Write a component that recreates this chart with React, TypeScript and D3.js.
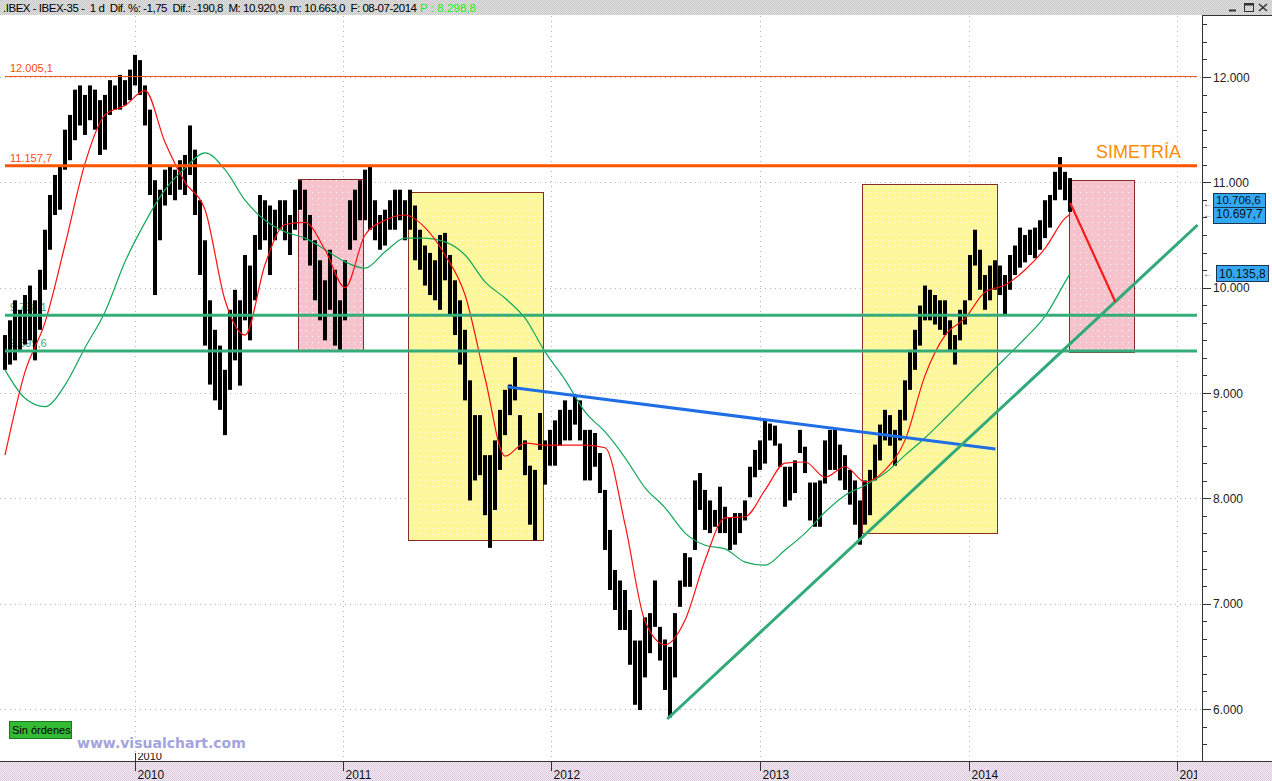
import React from 'react';
import * as d3 from 'd3';

const W = 1272;
const H = 781;

const BAR_START = '2009-05-19';
const BAR_STEP_DAYS = 8.76;
const barHigh = [
  9550, 9690, 9880, 9790, 9930, 10020, 9880, 10170, 10550, 10880,
  11070, 11160, 11500, 11640, 11880, 11920, 11830, 11920, 11880, 11780,
  11830, 11970, 11920, 12020, 11970, 12070, 12210, 12160, 11920, 11690,
  11020, 10930, 11120, 11160, 11120, 11210, 11260, 11540, 11310, 10830,
  10450, 9880, 9600, 9450, 9220, 9790, 9980, 9880, 10310, 10210,
  10500, 10880, 10830, 10780, 10740, 10830, 10830, 10690, 10930, 11020,
  10930, 10690, 10450, 10260, 10070, 10360, 10170, 9880, 10260, 10830,
  10930, 11020, 11120, 11160, 10830, 10690, 10740, 10830, 10930, 10930,
  10830, 10930, 10780, 10550, 10400, 10330, 10260, 10500, 10520, 10310,
  10070, 9880, 9600, 9120, 8790, 8790, 8410, 8410, 8550, 8840,
  9030, 9080, 9340, 8790, 8550, 8310, 8270, 8810, 8550, 8650,
  8740, 8840, 8930, 8840, 8980, 8930, 8650, 8650, 8620, 8430,
  8080, 7700, 7320, 7220, 7130, 6940, 6650, 6650, 6870, 6910,
  7220, 6780, 6660, 6590, 6910, 7220, 7480, 7440, 8170, 8240,
  8080, 7980, 7890, 8110, 7920, 7820, 7860, 7860, 7980, 8300,
  8460, 8550, 8740, 8710, 8690, 8520, 8300, 8300, 8360, 8650,
  8490, 8150, 8150, 8170, 8550, 8650, 8650, 8510, 8410, 8270,
  8170, 7980, 8170, 8270, 8510, 8700, 8840, 8790, 8650, 8840,
  9120, 9410, 9600, 9830, 10020, 9980, 9930, 9880, 9880, 9690,
  9550, 9790, 9880, 10310, 10550, 10360, 10120, 10210, 10260, 10210,
  10120, 10310, 10400, 10570, 10500, 10550, 10570, 10640, 10830, 10880,
  11100, 11240, 11100, 11040,
];
const barLow = [
  9220, 9270, 9310, 9410, 9460, 9500, 9310, 9600, 9980, 10360,
  10690, 10740, 11120, 11210, 11400, 11540, 11450, 11590, 11500, 11260,
  11310, 11640, 11690, 11690, 11730, 11780, 11920, 11830, 11540, 10880,
  9930, 10450, 10780, 10880, 10830, 10930, 10880, 11070, 10690, 10120,
  9450, 9080, 8930, 8840, 8600, 9030, 9310, 9070, 9690, 9500,
  9880, 10360, 10450, 10120, 10450, 10550, 10450, 10310, 10550, 10740,
  10450, 10210, 9880, 9690, 9500, 9790, 9450, 9410, 9690, 10360,
  10450, 10640, 10640, 10550, 10450, 10360, 10400, 10550, 10550, 10640,
  10450, 10550, 10260, 10170, 10020, 9930, 9880, 9790, 10070, 9740,
  9550, 9270, 8930, 7980, 8170, 8220, 7840, 7530, 7890, 8270,
  8600, 8790, 8930, 8460, 8220, 7750, 7600, 8460, 8130, 8310,
  8310, 8500, 8550, 8550, 8700, 8550, 8170, 8170, 8300, 8050,
  7510, 7130, 6940, 6750, 6750, 6420, 6040, 5990, 6300, 6530,
  6780, 6460, 6180, 5920, 6300, 6970, 7160, 7160, 7510, 7890,
  7700, 7670, 7730, 7670, 7670, 7510, 7560, 7670, 7790, 8010,
  8200, 8270, 8330, 8550, 8500, 8300, 7920, 7980, 8050, 8430,
  8240, 7790, 7730, 7730, 8140, 8270, 8270, 8170, 8080, 7940,
  7750, 7560, 7750, 7840, 8170, 8360, 8550, 8500, 8310, 8550,
  8740, 9030, 9220, 9450, 9690, 9690, 9650, 9600, 9550, 9410,
  9270, 9500, 9650, 9880, 10210, 9980, 9790, 9880, 9980, 9930,
  9740, 9980, 10120, 10190, 10240, 10310, 10280, 10360, 10470, 10570,
  10830, 10930, 10830, 10720,
];

// Moving averages sampled every 4th bar, the last value on the final bar
const MA_EVERY = 4;
const maFast = [
  8410, 9200, 9670, 10405, 11180, 11640, 11730, 11870, 11380, 11000,
  10740, 9880, 9550, 10220, 10600, 10620, 10360, 10000, 10500, 10640,
  10690, 10570, 10310, 9930, 9140, 8400, 8525, 8505, 8505, 8505,
  8480, 7750, 6830, 6610, 6845, 7415, 7815, 7825, 8080, 8335,
  8345, 8200, 8300, 8155, 8270, 8555, 9170, 9550, 9710, 9960,
  10025, 10170, 10375, 10660, 10698,
];
const maSlow = [
  9220, 8950, 8870, 9075, 9430, 9770, 10245, 10620, 10930, 11135,
  11280, 11120, 10830, 10640, 10530, 10470, 10360, 10245, 10185, 10340,
  10470, 10470, 10435, 10310, 10055, 9900, 9710, 9390, 9125, 8820,
  8630, 8385, 8100, 7910, 7670, 7555, 7520, 7395, 7365, 7510,
  7670, 7870, 8030, 8125, 8240, 8410, 8575, 8760, 8950, 9140,
  9330, 9520, 9730, 10055, 10136,
];

const yTickValues = [6000, 7000, 8000, 9000, 10000, 11000, 12000];
const yearDates = ['2010-01-01', '2011-01-01', '2012-01-01', '2013-01-01', '2014-01-01', '2015-01-01'];
const yearLabels = ['2010', '2011', '2012', '2013', '2014', '201'];

const levelValues = [12005.1, 11157.7, 9738.1, 9399.6];
const levelLabels = ['12.005,1', '11.157,7', '9.738,1', '9.399,6'];

const boxStart = ['2010-10-15', '2011-04-25', '2013-06-29', '2014-06-25'];
const boxEnd = ['2011-02-05', '2011-12-17', '2014-02-20', '2014-10-17'];
const boxTop = [11030, 10910, 10985, 11020];
const boxBottom = [9400, 7605, 7670, 9390];
const boxKind = ['pink', 'yellow', 'yellow', 'pink'];

const blueDates = ['2011-10-16', '2014-02-17'];
const blueValues = [9057, 8468];
const trendDates = ['2012-07-22', '2015-02-06'];
const trendValues = [5905, 10595];
const arrowDates = ['2014-06-28', '2014-09-15'];
const arrowValues = [10804, 9864];

const lastValues = [10706.6, 10697.7, 10135.8];
const lastLabels = ['10.706,6', '10.697,7', '10.135,8'];

const headerText = '.IBEX - IBEX-35 -  1 d  Dif. %: -1,75  Dif.: -190,8  M: 10.920,9  m: 10.663,0  F: 08-07-2014';
const headerPrice = 'P : 8.298,8';

const parse = d3.timeParse('%Y-%m-%d');
const FONT = 'Liberation Sans, Arial, sans-serif';

export default function App() {
  const x = d3.scaleTime()
    .domain([parse('2009-05-19') as Date, parse('2015-01-01') as Date])
    .range([5, 1177]);
  const y = d3.scaleLinear().domain([6000, 12000]).range([709, 77]);

  const start = (parse(BAR_START) as Date).getTime();
  const barDate = (i: number) => new Date(start + i * BAR_STEP_DAYS * 86400000);
  const bars = barHigh.map((h, i) => ({ d: barDate(i), h, l: barLow[i] }));

  const maIdx = maFast.map((_, i) => (i === maFast.length - 1 ? barHigh.length - 1 : i * MA_EVERY));
  const line = d3.line<[Date, number]>().x((p) => x(p[0])).y((p) => y(p[1])).curve(d3.curveMonotoneX);
  const fastPath = line(maFast.map((v, i) => [barDate(maIdx[i]), v]));
  const slowPath = line(maSlow.map((v, i) => [barDate(maIdx[i]), v]));

  const fmt = d3.formatLocale({ decimal: ',', thousands: '.', grouping: [3], currency: ['', ''] }).format(',.0f');

  const plotLeft = 0;
  const plotRight = 1202;
  const plotTop = 16;
  const plotBottom = 761;
  const levelRight = 1197;

  const minorTicks: number[] = [];
  for (let k = -12; k <= 48; k++) {
    const v = 5000 + (k * 1000) / 6;
    const yy = y(v);
    if (yy > plotTop && yy < plotBottom) minorTicks.push(v);
  }

  const levelColor = ['#f0501e', '#ff5500', '#34ad78', '#34ad78'];
  const levelWidth = [1, 3, 3, 3];
  const labelColor = ['#ff4a10', '#ff4a10', '#3aa872', '#3aa872'];

  // last-value tags: [rect top, text baseline] offsets from the value's y
  const tagRectOffset = [-20, -7, -8];
  const tagTextOffset = [-9, 4, 5];
  const tagArrowOffset = [-10, 0, 0];
  const tagX = [1213, 1213, 1216];
  const tagH = [14, 16, 16];
  const tagFont = [11.5, 12, 12];

  const year0 = Math.round(x(parse(yearDates[0]) as Date)) + 0.5;

  return (
    <svg width={W} height={H} style={{ position: 'absolute', left: 0, top: 0, background: '#fff' }} fontFamily={FONT}>
      <defs>
        <pattern id="hdr" width="2" height="2" patternUnits="userSpaceOnUse">
          <rect width="2" height="2" fill="#e6e6e6" />
          <rect width="1" height="1" fill="#c2c2c2" />
          <rect x="1" y="1" width="1" height="1" fill="#c2c2c2" />
        </pattern>
        <pattern id="axp" width="2" height="2" patternUnits="userSpaceOnUse">
          <rect width="2" height="2" fill="#f4eef4" />
          <rect width="1" height="1" fill="#dcc6dc" />
          <rect x="1" y="1" width="1" height="1" fill="#dcc6dc" />
        </pattern>
        <pattern id="yel" width="6" height="6" patternUnits="userSpaceOnUse">
          <rect width="6" height="6" fill="#fdf79c" />
          <rect width="1" height="1" fill="#ffffff" />
        </pattern>
        <pattern id="pnk" width="6" height="6" patternUnits="userSpaceOnUse">
          <rect width="6" height="6" fill="#f6c3cc" />
          <rect width="1" height="1" fill="#ffffff" />
        </pattern>
        <clipPath id="plotClip">
          <rect x={plotLeft} y={plotTop} width={plotRight - plotLeft} height={plotBottom - plotTop} />
        </clipPath>
        <clipPath id="cut2010">
          <rect x={0} y={753} width={1200} height={8} />
        </clipPath>
        <clipPath id="axisClip">
          <rect x={0} y={762} width={1197} height={19} />
        </clipPath>
      </defs>

      <rect x={0} y={0} width={W} height={H} fill="#ffffff" />

      {/* header */}
      <rect x={0} y={0} width={W} height={15} fill="url(#hdr)" />
      <text x={3} y={12} fontSize={11.5} fill="#000" textLength={414} lengthAdjust="spacing" style={{ whiteSpace: 'pre' }}>
        {headerText}
      </text>
      <text x={420} y={12} fontSize={11.5} fill="#22ee22" textLength={56} lengthAdjust="spacing">
        {headerPrice}
      </text>
      {/* window buttons */}
      <g stroke="#333" fill="none" strokeWidth={1}>
        <line x1={1229} y1={10.5} x2={1236} y2={10.5} strokeWidth={2} />
        <rect x={1244.5} y={3.5} width={9} height={8} />
        <line x1={1244.5} y1={4.5} x2={1253.5} y2={4.5} strokeWidth={2} />
        <line x1={1259} y1={4} x2={1267} y2={11} strokeWidth={1.5} />
        <line x1={1267} y1={4} x2={1259} y2={11} strokeWidth={1.5} />
      </g>

      {/* grid */}
      <g stroke="#b4b4b4" strokeWidth={1} strokeDasharray="1 4">
        {yTickValues.map((v) => (
          <line key={'gy' + v} x1={plotLeft} x2={plotRight} y1={Math.round(y(v)) + 0.5} y2={Math.round(y(v)) + 0.5} />
        ))}
        {yearDates.map((d) => {
          const xx = Math.round(x(parse(d) as Date)) + 0.5;
          return <line key={'gx' + d} x1={xx} x2={xx} y1={plotTop} y2={plotBottom} />;
        })}
      </g>

      {/* boxes */}
      {boxStart.map((s, i) => {
        const x0 = Math.round(x(parse(s) as Date)) + 0.5;
        const x1 = Math.round(x(parse(boxEnd[i]) as Date)) + 0.5;
        const y0 = Math.round(y(boxTop[i])) + 0.5;
        const y1 = Math.round(y(boxBottom[i])) + 0.5;
        return (
          <rect key={'b' + i} x={x0} y={y0} width={x1 - x0} height={y1 - y0}
            fill={boxKind[i] === 'pink' ? 'url(#pnk)' : 'url(#yel)'} stroke="#8a2a2a" strokeWidth={1} />
        );
      })}

      {/* level labels (drawn under candles) */}
      {levelValues.map((v, i) => (
        <text key={'ll' + i} x={10} y={y(v) - 4} fontSize={11} fill={labelColor[i]}>{levelLabels[i]}</text>
      ))}

      {/* candles */}
      <g clipPath="url(#plotClip)">
        {bars.map((b, i) => (
          <rect key={'c' + i} x={Math.round(x(b.d)) - 2} width={4}
            y={y(b.h)} height={Math.max(1, y(b.l) - y(b.h))} fill="#000" />
        ))}
        <path d={slowPath || ''} fill="none" stroke="#12a85a" strokeWidth={1.2} />
        <path d={fastPath || ''} fill="none" stroke="#ff1010" strokeWidth={1.2} />
      </g>

      {/* horizontal levels */}
      {levelValues.map((v, i) => (
        <line key={'lv' + i} x1={plotLeft + 5} x2={levelRight} y1={y(v)} y2={y(v)}
          stroke={levelColor[i]} strokeWidth={levelWidth[i]} />
      ))}

      {/* drawn lines */}
      <line x1={x(parse(blueDates[0]) as Date)} y1={y(blueValues[0])} x2={x(parse(blueDates[1]) as Date)} y2={y(blueValues[1])}
        stroke="#1f6ee6" strokeWidth={3} />
      <line x1={x(parse(trendDates[0]) as Date)} y1={y(trendValues[0])} x2={x(parse(trendDates[1]) as Date)} y2={y(trendValues[1])}
        stroke="#31aa78" strokeWidth={3} />
      <line x1={x(parse(arrowDates[0]) as Date)} y1={y(arrowValues[0])} x2={x(parse(arrowDates[1]) as Date)} y2={y(arrowValues[1])}
        stroke="#ff1a1a" strokeWidth={2.2} />

      <text x={1096} y={158} fontSize={18} fill="#ff8c00">SIMETRÍA</text>

      {/* right axis */}
      <line x1={plotRight + 0.5} x2={plotRight + 0.5} y1={15} y2={plotBottom} stroke="#333" strokeWidth={1} />
      <line x1={plotRight} x2={W} y1={15.5} y2={15.5} stroke="#333" strokeWidth={1} />
      {minorTicks.map((v, i) => (
        <line key={'mt' + i} x1={plotRight} x2={plotRight + 5} y1={Math.round(y(v)) + 0.5} y2={Math.round(y(v)) + 0.5} stroke="#333" />
      ))}
      {yTickValues.map((v) => (
        <g key={'yt' + v}>
          <line x1={plotRight} x2={plotRight + 9} y1={Math.round(y(v)) + 0.5} y2={Math.round(y(v)) + 0.5} stroke="#333" />
          <text x={1213} y={y(v) + 4.5} fontSize={12} fill="#222">{fmt(v)}</text>
        </g>
      ))}

      {/* last value tags */}
      {lastValues.map((v, i) => {
        const yv = y(v);
        return (
          <g key={'lvb' + i}>
            <text x={1203} y={yv + tagArrowOffset[i] + 4} fontSize={10} fill="#555">←</text>
            <rect x={tagX[i] + 0.5} y={Math.round(yv + tagRectOffset[i]) + 0.5} width={52} height={tagH[i]}
              fill="#33a9f5" stroke="#1b3550" strokeWidth={1} />
            <text x={tagX[i] + 3} y={yv + tagTextOffset[i]} fontSize={tagFont[i]} fill="#0a1020">{lastLabels[i]}</text>
          </g>
        );
      })}

      {/* bottom axis */}
      <rect x={0} y={762} width={W} height={H - 762} fill="url(#axp)" />
      <line x1={0} x2={W} y1={plotBottom + 0.5} y2={plotBottom + 0.5} stroke="#333" strokeWidth={1} />
      <g clipPath="url(#axisClip)">
        {yearDates.map((d, i) => {
          const xx = Math.round(x(parse(d) as Date)) + 0.5;
          return (
            <g key={'xt' + d}>
              <line x1={xx} x2={xx} y1={plotBottom + 1} y2={plotBottom + 10} stroke="#333" />
              <text x={xx + 2} y={779} fontSize={12} fill="#111">{yearLabels[i]}</text>
            </g>
          );
        })}
      </g>
      {/* secondary cut-off year label inside plot */}
      <g clipPath="url(#cut2010)">
        <line x1={year0} x2={year0} y1={752} y2={plotBottom} stroke="#333" />
        <text x={year0 + 2} y={760} fontSize={11} fill="#111">{yearLabels[0]}</text>
      </g>

      {/* watermark & status */}
      <text x={77} y={748} fontSize={14} fontWeight="bold" fill="#a3a3de" fontFamily="DejaVu Sans, Verdana, sans-serif">www.visualchart.com</text>
      <rect x={9.5} y={721.5} width={62} height={17} fill="#33bb33" stroke="#1a7a1a" />
      <text x={12} y={734} fontSize={11} fill="#000">Sin órdenes</text>
    </svg>
  );
}
